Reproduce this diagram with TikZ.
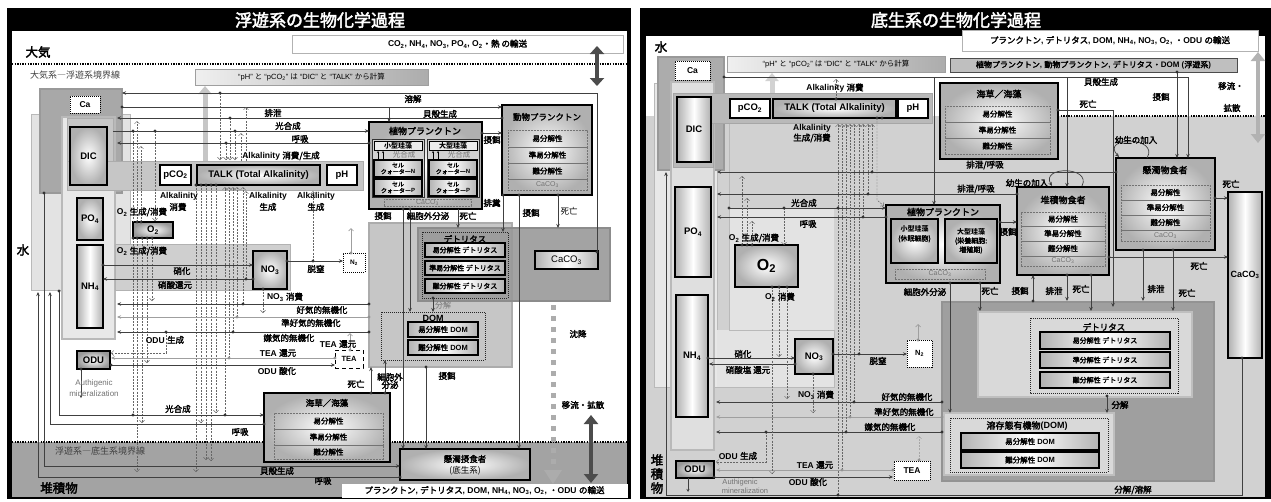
\documentclass[tikz,border=0pt]{standalone}
\usepackage{fontspec}
\setmainfont{Liberation Sans}
\newfontfamily\jpf{Noto Sans CJK JP}[BoldFont={Noto Sans CJK JP},BoldFeatures={FakeBold=2.5},AutoFakeSlant=0.2]
\usetikzlibrary{arrows.meta}
\newcommand\JP[1]{{\jpf #1}}
\newcommand\sbs[1]{\textsubscript{#1}}
\newcounter{lc}
\newcommand\lbl[3][lab]{\stepcounter{lc}\node[#1] (t\arabic{lc}) at (#2) {#3};}
\newcommand\mbx[7]{\node[#6, minimum width=(#4-#2)*1pt, minimum height=(#5-#3)*1pt] (#1) at ({(#2+#4)/2},{(#3+#5)/2}) {#7};}
\newcommand\pdot[1]{\fill[black!80] (#1) circle (1.7pt);}
\newcommand\gdot[1]{\fill[gray!85] (#1) circle (1.7pt);}
\tikzset{
 ttl/.style={font=\fontsize{17}{18}\selectfont\bfseries, text=white, inner sep=0pt},
 big/.style={font=\fontsize{12.5}{13}\selectfont\bfseries, inner sep=0pt},
 bnd/.style={font=\fontsize{9}{10}\selectfont, text=black!75, inner sep=0pt},
 lab/.style={font=\fontsize{8.5}{9}\selectfont\bfseries, inner sep=0pt, align=center},
 labn/.style={font=\fontsize{8.5}{9}\selectfont, inner sep=0pt, align=center},
 gl/.style={font=\fontsize{7.5}{8.5}\selectfont, text=black!55, inner sep=0pt, align=center},
 topw/.style={draw=gray!60, fill=white, line width=0.8pt, inner sep=0pt, font=\fontsize{8.5}{9}\selectfont\bfseries},
 calcbox/.style={draw=gray!75, line width=0.8pt, left color=gray!12, right color=gray!65, inner sep=0pt, font=\fontsize{7.5}{8}\selectfont},
 rbox/.style={draw=black, line width=1.4pt, inner color=white, outer color=gray!62, inner sep=0pt, align=center, font=\fontsize{9.5}{10}\selectfont\bfseries},
 cbox/.style={draw=black, line width=1.4pt, left color=gray!62, right color=gray!62, middle color=white, inner sep=0pt, align=center, font=\fontsize{9.5}{10}\selectfont\bfseries},
 hbox/.style={draw=black, line width=1.3pt, left color=gray!60, right color=gray!60, middle color=white, inner sep=0pt, align=center, font=\fontsize{7}{7.5}\selectfont\bfseries},
 wbox/.style={draw=black, line width=1.4pt, fill=white, inner sep=0pt, font=\fontsize{9.5}{10}\selectfont\bfseries},
 dotb/.style={draw=black, line width=1pt, dash pattern=on 1pt off 1pt, fill=white, inner sep=0pt, font=\fontsize{8.5}{9}\selectfont\bfseries},
 dashb/.style={draw=black, line width=1pt, dash pattern=on 4pt off 3pt, fill=white, inner sep=0pt, font=\fontsize{7.5}{8}\selectfont\bfseries},
 drow/.style={draw=black!55, line width=0.5pt, dash pattern=on 2pt off 1pt, inner sep=0pt, font=\fontsize{7.5}{8}\selectfont\bfseries},
 grayrow/.style={drow, font=\fontsize{7}{8}\selectfont, text=black!55},
 dotarea/.style={draw=black!85, line width=1pt, dash pattern=on 1pt off 1pt},
 ln/.style={draw=black!75, line width=0.7pt},
 gln/.style={draw=gray!75, line width=0.7pt},
 ar/.style={-{Stealth[length=4pt,width=3.5pt]}},
 dl/.style={draw=black!60, line width=0.45pt, dash pattern=on 2pt off 1.2pt},
 oa/.style={-{Straight Barb[length=2.5pt,width=5pt]}},
}
\begin{document}
\begin{tikzpicture}[x=1pt,y=-1pt]
\useasboundingbox (0,0) rectangle (1271,501);
\fill[white] (0,0) rectangle (1271,501);

%%%%%%%%%%%%%%%%%%%% LEFT PANEL
\fill[black] (7,8) rectangle (631,499);
\fill[white] (12,31) rectangle (627,442);
\fill[gray!72] (12,442) rectangle (627,497);
\draw[black,line width=1.3pt,dash pattern=on 1.3pt off 1.3pt] (12,64) -- (627,64);
\draw[black,line width=1.3pt,dash pattern=on 1.3pt off 1.3pt] (12,442) -- (627,442);
\node[ttl] (ttlL) at (320,20) {\JP{浮遊系の生物化学過程}};
\lbl[big]{38,52}{\JP{大気}}
\lbl[big]{23,250}{\JP{水}}
\lbl[big]{59,488}{\JP{堆積物}}
\lbl[bnd]{75,75}{\JP{大気系―浮遊系境界線}}
\lbl[bnd]{100,451}{\JP{浮遊系―底生系境界線}}
\mbx{trL}{292}{35}{623}{53}{topw}{CO\sbs{2}, NH\sbs{4}, NO\sbs{3}, PO\sbs{4}, O\sbs{2}\JP{・熱 の輸送}}
\mbx{calcL}{195}{69}{428}{85}{calcbox}{“pH” \JP{と} “pCO\sbs{2}” \JP{は} “DIC” \JP{と} “TALK” \JP{から計算}}

% regions
\filldraw[fill=gray!22,draw=gray!55,line width=0.8pt] (31,114) rectangle (130,290);
\filldraw[fill=gray!68,draw=gray!80,line width=1.5pt] (40,89) rectangle (122,193);
\filldraw[fill=gray!18,draw=gray!55,line width=1.8pt] (62,117) rectangle (115,339);
\filldraw[fill=gray!45,draw=gray!65,line width=1pt] (67,118) rectangle (113,190);
\filldraw[fill=gray!45,draw=gray!65,line width=1pt] (67,161) rectangle (363,190);
\fill[gray!45] (68,162) rectangle (112,189);
\filldraw[fill=gray!38,draw=gray!60,line width=1pt] (115,244) rectangle (290,290);
\filldraw[fill=gray!45,draw=gray!65,line width=1.5pt] (369,223) rectangle (512,367);
\filldraw[fill=gray!80,draw=gray!90,line width=2pt,fill opacity=0.9] (418,228) rectangle (610,301);
\draw[dotarea] (422,232) rectangle (508,298);
\draw[dotarea] (381,312) rectangle (485,360);

% thick arrows
\draw[gray!45,line width=5pt,-{Triangle[length=8pt,width=13pt]}] (205,161) -- (205,86);
\draw[black!70,line width=4pt,{Triangle[length=8pt,width=14pt]}-{Triangle[length=8pt,width=14pt]}] (597,46) -- (597,86);
\draw[black!70,line width=4pt,{Triangle[length=9pt,width=14pt]}-{Triangle[length=9pt,width=14pt]}] (591,415) -- (591,483);
\draw[gray!65,line width=5pt,dash pattern=on 5pt off 6pt] (553,305) -- (553,470);
\fill[gray!65] (544,470) -- (562,470) -- (553,484) -- cycle;
\mbx{botL}{342}{484}{627}{497}{topw,draw=white}{\JP{プランクトン}, \JP{デトリタス}, DOM, NH\sbs{4}, NO\sbs{3}, O\sbs{2}, \JP{・}ODU \JP{の輸送}}

% boxes
\mbx{CaL}{70}{96}{100}{113}{dotb}{Ca}
\mbx{DICL}{70}{127}{107}{185}{rbox}{DIC}
\mbx{pco2L}{160}{165}{191}{185}{wbox}{pCO\sbs{2}}
\mbx{talkL}{197}{165}{320}{185}{rbox}{TALK (Total Alkalinity)}
\mbx{phL}{327}{165}{357}{185}{wbox}{pH}
\mbx{PO4L}{77}{198}{103}{240}{rbox}{PO\sbs{4}}
\mbx{O2L}{133}{222}{173}{238}{rbox,outer color=gray!80}{O\sbs{2}}
\mbx{NH4L}{77}{245}{103}{328}{cbox}{NH\sbs{4}}
\mbx{NO3L}{253}{251}{287}{289}{rbox}{NO\sbs{3}}
\mbx{N2L}{343}{253}{365}{272}{dotb,font=\fontsize{6.5}{7}\selectfont\bfseries}{N\sbs{2}}
\mbx{ODUL}{77}{351}{110}{369}{rbox,outer color=gray!80}{ODU}
\mbx{TEAL}{335}{350}{363}{368}{dashb}{TEA}

% phytoplankton (left)
\mbx{phyL}{369}{122}{482}{209}{rbox}{}
\lbl[lab,font=\fontsize{9}{9}\selectfont\bfseries]{425,131}{\JP{植物プランクトン}}
\mbx{smL}{372}{139}{424}{197}{draw=black!80,line width=1pt,fill=gray!35}{}
\mbx{lgL}{427}{139}{479}{197}{draw=black!80,line width=1pt,fill=gray!35}{}
\mbx{smhL}{374}{141}{422}{150}{draw=black,line width=0.8pt,fill=gray!15,inner sep=0pt,font=\fontsize{7}{7}\selectfont\bfseries\itshape}{\JP{小型珪藻}}
\mbx{lghL}{429}{141}{477}{150}{draw=black,line width=0.8pt,fill=gray!15,inner sep=0pt,font=\fontsize{7}{7}\selectfont\bfseries\itshape}{\JP{大型珪藻}}
\lbl[gl,font=\fontsize{7.5}{8}\selectfont]{404,155}{\JP{光合成}}
\lbl[gl,font=\fontsize{7.5}{8}\selectfont]{459,155}{\JP{光合成}}
\mbx{cnL1}{374}{160}{422}{177}{hbox,font=\fontsize{6}{6.5}\selectfont\bfseries}{\JP{セル}\\\JP{クォーター}N}
\mbx{cpL1}{374}{179}{422}{196}{hbox,font=\fontsize{6}{6.5}\selectfont\bfseries}{\JP{セル}\\\JP{クォーター}P}
\mbx{cnL2}{429}{160}{477}{177}{hbox,font=\fontsize{6}{6.5}\selectfont\bfseries}{\JP{セル}\\\JP{クォーター}N}
\mbx{cpL2}{429}{179}{477}{196}{hbox,font=\fontsize{6}{6.5}\selectfont\bfseries}{\JP{セル}\\\JP{クォーター}P}
\mbx{ccL}{384}{199}{471}{206}{grayrow}{CaCO\sbs{3}}
\foreach \xx in {378,383,433,438} \draw[black,line width=0.5pt,-{Stealth[length=2pt,width=2pt]}] (\xx,160) -- (\xx,151);

% zooplankton
\mbx{zooL}{502}{105}{592}{195}{rbox}{}
\lbl[lab]{547,117}{\JP{動物プランクトン}}
\mbx{zr1}{508}{130}{587}{147}{drow}{\JP{易分解性}}
\mbx{zr2}{508}{147}{587}{163}{drow}{\JP{準易分解性}}
\mbx{zr3}{508}{163}{587}{179}{drow}{\JP{難分解性}}
\mbx{zr4}{508}{179}{587}{190}{grayrow}{CaCO\sbs{3}}

% detritus / DOM / CaCO3
\lbl[lab]{465,239}{\JP{デトリタス}}
\mbx{dL1}{425}{243}{505}{257}{hbox}{\JP{易分解性 デトリタス}}
\mbx{dL2}{425}{261}{505}{275}{hbox}{\JP{準易分解性 デトリタス}}
\mbx{dL3}{425}{279}{505}{293}{hbox}{\JP{難分解性 デトリタス}}
\mbx{caco3L}{535}{251}{598}{269}{cbox,font=\fontsize{9.5}{10}\selectfont}{CaCO\sbs{3}}
\lbl[lab,font=\fontsize{9}{9}\selectfont\bfseries]{433,318}{DOM}
\mbx{domL1}{408}{322}{478}{337}{hbox,font=\fontsize{7.5}{8}\selectfont\bfseries}{\JP{易分解性} DOM}
\mbx{domL2}{408}{340}{478}{355}{hbox,font=\fontsize{7.5}{8}\selectfont\bfseries}{\JP{難分解性} DOM}

% seagrass, suspension feeders
\mbx{seaL}{264}{393}{390}{462}{rbox}{}
\lbl[lab]{327,403}{\JP{海草／海藻}}
\mbx{sl1}{274}{413}{383}{429}{drow}{\JP{易分解性}}
\mbx{sl2}{274}{429}{383}{445}{drow}{\JP{準易分解性}}
\mbx{sl3}{274}{445}{383}{459}{drow}{\JP{難分解性}}
\mbx{susL}{400}{449}{530}{480}{rbox}{}
\lbl[lab]{465,459}{\JP{懸濁摂食者}}
\lbl[labn]{465,471}{\JP{(底生系)}}

% ---- connectors left
\draw[ln,ar] (597,252) -- (597,93) -- (122,93);
\draw[dl,oa] (220,93) -- (220,160);
\draw[ln,ar] (122,107) -- (502,107);
\draw[ln,ar] (389,107) -- (389,122);
\draw[ln,ar] (502,118) -- (117,118);
\draw[dl,oa] (230,118) -- (230,160);
\draw[ln,ar] (113,131) -- (369,131);
\draw[dl,oa] (235,131) -- (235,160);
\draw[ln,ar] (369,143) -- (117,143);
\draw[dl,oa] (226,143) -- (226,160);
\draw[dl,oa] (246,161) -- (246,107);
\draw[dl,oa] (241,161) -- (241,133);
\draw[ln,ar] (482,133) -- (502,133);
% O2 dashed
\draw[dl,oa] (155,131) -- (155,221);
\draw[dl] (133,131) -- (133,222);
\draw[dl,oa] (137,222) -- (137,121);
\draw[dl,oa] (141,222) -- (141,146);
\draw[dl] (133,238) -- (133,415);
\draw[dl,oa] (137,238) -- (137,472);
\draw[dl,oa] (142,238) -- (142,423);
\draw[dl,oa] (147,238) -- (147,363);
\draw[dl,oa] (152,238) -- (152,301);
% TALK dashed
\draw[dl,oa] (196,185) -- (196,472);
\draw[dl,oa] (201,185) -- (201,423);
\draw[dl,oa] (206,185) -- (206,460);
\draw[dl,oa] (211,185) -- (211,461);
\draw[dl,oa] (216,185) -- (216,413);
\draw[dl,oa] (225,415) -- (225,187);
\draw[dl,oa] (229,358) -- (229,187);
\draw[dl,oa] (233,332) -- (233,187);
\draw[dl,oa] (237,317) -- (237,187);
\draw[dl,oa] (243,304) -- (243,187);
\draw[dl,oa] (246,279) -- (246,191);
\draw[dl,oa] (313,261) -- (313,191);
% N cycle
\draw[ln,ar] (103,265) -- (253,265);
\draw[ln,ar] (253,279) -- (103,279);
\draw[ln,ar] (287,261) -- (343,261);
\draw[gln,oa] (351,253) -- (351,228);
\draw[dl,oa] (263,289) -- (263,313);
% mineralization
\draw[ln,ar] (369,304) -- (117,304);
\draw[gln,ar] (369,317) -- (117,317);
\draw[ln,ar] (369,332) -- (117,332);
\draw[dl,oa] (166,332) -- (166,353) -- (111,353);
\draw[gln,ar] (335,358) -- (111,358);
\draw[ln,ar] (111,365) -- (335,365);
\draw[gln,oa] (350,350) -- (350,333);
\draw[ln,-{Stealth[length=3pt,width=3pt]}] (81,369) -- (81,398);
% seagrass / suspension feeders
\draw[ln,ar] (59,291) -- (59,415) -- (264,415);
\draw[ln,ar] (264,424) -- (50,424) -- (50,292);
\draw[ln,ar] (44,193) -- (44,466) -- (400,466);
\draw[ln,ar] (400,477) -- (38,477) -- (38,292);
% phyto / zoo bottoms
\draw[ln,ar] (403,209) -- (403,449);
\draw[ln,ar] (410,209) -- (410,312);
\draw[ln,ar] (458,209) -- (458,228);
\draw[ln,ar] (503,195) -- (503,232);
\draw[ln,ar] (519,195) -- (519,449);
\draw[ln,ar] (558,195) -- (558,228);
\draw[ln,ar] (433,298) -- (433,312);
\draw[ln,ar] (371,393) -- (371,367);
\draw[ln,ar] (385,393) -- (385,360);
\draw[ln,ar] (426,367) -- (426,449);
% dots left
\foreach \p in {{597,252},{220,93},{122,107},{502,118},{230,118},{133,131},{155,131},{235,131},{369,143},{226,143},{482,133},
 {137,222},{141,222},{133,238},{137,238},{142,238},{147,238},{152,238},{196,185},{201,185},{206,185},{211,185},{216,185},
 {103,265},{253,279},{246,279},{287,261},{313,261},{263,289},{369,304},{243,304},{369,332},{233,332},{166,332},{111,365},{81,369},
 {59,291},{133,415},{225,415},{264,424},{44,193},{400,477},{403,209},{410,209},{503,195},{519,195},{558,195},{433,298},{371,393},{385,393},{426,367}}
 {\expandafter\pdot\expandafter{\p}}
\foreach \p in {{351,253},{369,317},{237,317},{335,358},{229,358},{350,350}} {\expandafter\gdot\expandafter{\p}}

% labels left
\lbl{413,99}{\JP{溶解}}
\lbl{440,114}{\JP{貝殻生成}}
\lbl{273,113}{\JP{排泄}}
\lbl{288,126}{\JP{光合成}}
\lbl{300,139}{\JP{呼吸}}
\lbl{492,140}{\JP{摂餌}}
\lbl{281,156}{Alkalinity \JP{消費/生成}}
\lbl{179,196}{Alkalinity}
\lbl{178,207}{\JP{消費}}
\lbl{268,196}{Alkalinity}
\lbl{268,207}{\JP{生成}}
\lbl{316,196}{Alkalinity}
\lbl{316,207}{\JP{生成}}
\lbl{142,212}{O\sbs{2} \JP{生成/消費}}
\lbl{142,251}{O\sbs{2} \JP{生成/消費}}
\lbl{182,271}{\JP{硝化}}
\lbl{175,285}{\JP{硝酸還元}}
\lbl{316,269}{\JP{脱窒}}
\lbl{285,297}{NO\sbs{3} \JP{消費}}
\lbl{322,310}{\JP{好気的無機化}}
\lbl{311,323}{\JP{準好気的無機化}}
\lbl{289,338}{\JP{嫌気的無機化}}
\lbl{165,340}{ODU \JP{生成}}
\lbl{278,353}{TEA \JP{還元}}
\lbl{338,344}{TEA \JP{還元}}
\lbl{277,371}{ODU \JP{酸化}}
\lbl[gl,font=\fontsize{8}{9}\selectfont]{94,383}{Authigenic}
\lbl[gl,font=\fontsize{8}{9}\selectfont]{94,394}{mineralization}
\lbl{178,409}{\JP{光合成}}
\lbl{240,432}{\JP{呼吸}}
\lbl{277,471}{\JP{貝殻生成}}
\lbl{323,481}{\JP{呼吸}}
\lbl{356,384}{\JP{死亡}}
\lbl{390,381}{\JP{細胞外}\\[-1pt]\JP{分泌}}
\lbl{447,376}{\JP{摂餌}}
\lbl{383,216}{\JP{摂餌}}
\lbl{428,216}{\JP{細胞外分泌}}
\lbl{468,216}{\JP{死亡}}
\lbl{492,203}{\JP{排糞}}
\lbl{531,213}{\JP{摂餌}}
\lbl[labn]{569,211}{\JP{死亡}}
\lbl[gl,font=\fontsize{8}{9}\selectfont]{443,305}{\JP{分解}}
\lbl{578,334}{\JP{沈降}}
\lbl{583,405}{\JP{移流・拡散}}

%%%%%%%%%%%%%%%%%%%% RIGHT PANEL
\fill[black] (640,8) rectangle (1271,499);
\fill[gray!36] (646,36) rectangle (1265,497);
\fill[white] (646,36) rectangle (1265,116);
\draw[black,line width=1.3pt,dash pattern=on 1.3pt off 1.3pt] (1058,116) -- (1265,116);
\node[ttl] (ttlR) at (956,20) {\JP{底生系の生物化学過程}};
\lbl[big]{661,47}{\JP{水}}
\lbl[big]{657,460}{\JP{堆}}
\lbl[big]{657,474}{\JP{積}}
\lbl[big]{657,488}{\JP{物}}

\filldraw[fill=gray!18,draw=gray!55,line width=0.8pt] (654,83) rectangle (717,387);
\fill[gray!22] (729,208) rectangle (834,330);
\fill[gray!22] (717,330) rectangle (834,387);
\draw[gray!55,line width=0.8pt] (729,123) -- (729,330) -- (834,330) -- (834,387) -- (717,387);
\filldraw[fill=gray!65,draw=gray!80,line width=2pt] (658,57) rectangle (724,170);
\filldraw[fill=gray!25,draw=gray!55,line width=2pt] (671,82) rectangle (714,450);
\filldraw[fill=gray!55,draw=gray!70,line width=1pt] (673,93) rectangle (713,167);
\filldraw[fill=gray!55,draw=gray!70,line width=1pt] (673,93) rectangle (932,123);
\fill[gray!55] (674,94) rectangle (712,166);
\filldraw[fill=gray!75,draw=gray!85,line width=2pt] (942,302) rectangle (1214,481);
\filldraw[fill=gray!30,draw=gray!50,line width=1.5pt] (978,312) rectangle (1192,397);
\filldraw[fill=gray!30,draw=gray!50,line width=1.5pt] (944,413) rectangle (1114,475);
\draw[dotarea] (1030,318) rectangle (1178,393);
\draw[dotarea] (950,418) rectangle (1108,472);

\draw[gray!35,line width=5pt,-{Triangle[length=8pt,width=13pt]}] (772,93) -- (772,73);
\draw[gray!60,line width=4pt,{Triangle[length=9pt,width=14pt]}-{Triangle[length=9pt,width=14pt]}] (1258,52) -- (1258,143);

\mbx{trR}{962}{30}{1258}{51}{topw}{\JP{プランクトン}, \JP{デトリタス}, DOM, NH\sbs{4}, NO\sbs{3}, O\sbs{2}, \JP{・}ODU \JP{の輸送}}
\mbx{plR}{950}{58}{1237}{72}{draw=black!70,line width=1pt,fill=gray!50,inner sep=0pt,font=\fontsize{8}{8.5}\selectfont\bfseries}{\JP{植物プランクトン}, \JP{動物プランクトン}, \JP{デトリタス・}DOM (\JP{浮遊系})}
\mbx{calcR}{727}{56}{945}{72}{calcbox}{“pH” \JP{と} “pCO\sbs{2}” \JP{は} “DIC” \JP{と} “TALK” \JP{から計算}}

\mbx{CaR}{675}{61}{710}{80}{dotb}{Ca}
\mbx{DICR}{677}{97}{711}{162}{cbox}{DIC}
\mbx{pco2R}{730}{99}{770}{118}{wbox}{pCO\sbs{2}}
\mbx{talkR}{773}{99}{896}{118}{rbox}{TALK (Total Alkalinity)}
\mbx{phR}{898}{99}{928}{118}{wbox}{pH}
\mbx{PO4R}{675}{187}{711}{277}{cbox}{PO\sbs{4}}
\mbx{NH4R}{676}{295}{708}{417}{cbox}{NH\sbs{4}}
\mbx{O2R}{735}{245}{798}{287}{rbox,line width=2pt,font=\fontsize{16}{17}\selectfont\bfseries}{O\sbs{2}}
\mbx{NO3R}{795}{339}{833}{374}{rbox}{NO\sbs{3}}
\mbx{N2R}{907}{340}{932}{367}{dotb,font=\fontsize{7.5}{8}\selectfont\bfseries}{N\sbs{2}}
\mbx{TEAR}{894}{461}{930}{480}{dotb}{TEA}
\mbx{ODUR}{676}{461}{714}{478}{rbox,outer color=gray!80}{ODU}
\mbx{CaCO3R}{1228}{192}{1262}{358}{cbox,font=\fontsize{9}{10}\selectfont\bfseries}{CaCO\sbs{3}}

\mbx{seaR}{940}{83}{1058}{159}{rbox}{}
\lbl[lab,font=\fontsize{9}{9}\selectfont\bfseries]{999,94}{\JP{海草／海藻}}
\mbx{sr1}{945}{106}{1050}{122}{drow}{\JP{易分解性}}
\mbx{sr2}{945}{122}{1050}{138}{drow}{\JP{準易分解性}}
\mbx{sr3}{945}{138}{1050}{154}{drow}{\JP{難分解性}}

\mbx{susR}{1116}{158}{1215}{250}{rbox}{}
\lbl[lab,font=\fontsize{9}{9}\selectfont\bfseries]{1165,170}{\JP{懸濁物食者}}
\mbx{ur1}{1121}{185}{1210}{200}{drow}{\JP{易分解性}}
\mbx{ur2}{1121}{200}{1210}{215}{drow}{\JP{準易分解性}}
\mbx{ur3}{1121}{215}{1210}{230}{drow}{\JP{難分解性}}
\mbx{ur4}{1121}{230}{1210}{241}{grayrow}{CaCO\sbs{3}}

\mbx{depR}{1017}{187}{1109}{275}{rbox}{}
\lbl[lab,font=\fontsize{9}{9}\selectfont\bfseries]{1063,200}{\JP{堆積物食者}}
\mbx{er1}{1021}{212}{1105}{226}{drow}{\JP{易分解性}}
\mbx{er2}{1021}{226}{1105}{241}{drow}{\JP{準易分解性}}
\mbx{er3}{1021}{241}{1105}{256}{drow}{\JP{難分解性}}
\mbx{er4}{1021}{256}{1105}{266}{grayrow}{CaCO\sbs{3}}

\mbx{phyR}{886}{205}{1000}{283}{rbox}{}
\lbl[lab,font=\fontsize{9}{9}\selectfont\bfseries]{943,212}{\JP{植物プランクトン}}
\mbx{smR}{891}{219}{938}{263}{rbox,line width=1.2pt,font=\fontsize{7}{9}\selectfont\bfseries}{\textit{\JP{小型珪藻}}\\\JP{(休眠細胞)}\\[6pt]}
\mbx{lgR}{945}{219}{997}{263}{rbox,line width=1.2pt,font=\fontsize{7}{9}\selectfont\bfseries}{\textit{\JP{大型珪藻}}\\\JP{(栄養細胞:}\\\JP{増殖期)}}
\mbx{ccR}{895}{269}{985}{279}{grayrow}{CaCO\sbs{3}}

\lbl[lab]{1104,327}{\JP{デトリタス}}
\mbx{dR1}{1040}{332}{1170}{349}{hbox}{\JP{易分解性 デトリタス}}
\mbx{dR2}{1040}{352}{1170}{368}{hbox}{\JP{準分解性 デトリタス}}
\mbx{dR3}{1040}{372}{1170}{388}{hbox}{\JP{難分解性 デトリタス}}
\lbl[lab,font=\fontsize{9}{9}\selectfont\bfseries]{1027,426}{\JP{溶存態有機物}(DOM)}
\mbx{domR1}{961}{433}{1099}{450}{hbox,font=\fontsize{7.5}{8}\selectfont\bfseries}{\JP{易分解性} DOM}
\mbx{domR2}{961}{452}{1099}{468}{hbox,font=\fontsize{7.5}{8}\selectfont\bfseries}{\JP{難分解性} DOM}

% ---- connectors right
\draw[ln,ar] (724,77) -- (1188,77) -- (1188,158);
\draw[ln,ar] (934,77) -- (934,205);
\draw[ln,ar] (1067,77) -- (1067,187);
\draw[ln,ar] (1177,72) -- (1177,158);
\draw[ln,ar] (1058,110) -- (1113,110) -- (1113,307);
\draw[ln,ar] (1147,158) .. controls (1160,136) and (1100,136) .. (1119,157);
\draw[ln,ar] (1082,186) .. controls (1092,166) and (1040,166) .. (1052,186);
\draw[ln,ar] (1116,172) -- (717,172);
\draw[ln,ar] (1017,194) -- (717,194);
\draw[ln,ar] (729,208) -- (886,208);
\draw[ln,ar] (886,217) -- (717,217);
\draw[ln,ar] (1000,222) -- (1017,222);
\draw[ln,ar] (950,283) -- (950,413);
\draw[ln,ar] (980,283) -- (980,311);
\draw[ln,ar] (1033,301) -- (1033,275);
\draw[ln,ar] (1067,275) -- (1067,301);
\draw[ln,ar] (1091,275) -- (1091,311);
\draw[ln,ar] (1143,250) -- (1143,301);
\draw[ln,ar] (1173,250) -- (1173,311);
\draw[ln,ar] (1109,257) -- (1228,257);
\draw[ln,ar] (1215,198) -- (1228,198);
\draw[ln,ar] (1242,358) -- (1242,495) -- (666,495) -- (666,172);
\draw[ln,ar] (1107,396) -- (1107,413);
% N cycle
\draw[ln,ar] (708,358) -- (795,358);
\draw[ln,ar] (795,364) -- (709,364);
\draw[ln,ar] (833,354) -- (907,354);
\draw[gln,oa] (918,340) -- (918,324);
\draw[dl,oa] (813,374) -- (813,413);
% mineralization
\draw[ln,ar] (942,402) -- (716,402);
\draw[gln,ar] (942,417) -- (716,417);
\draw[ln,ar] (942,432) -- (716,432);
\draw[dl,oa] (766,432) -- (766,462) -- (716,462);
\draw[gln,ar] (893,470) -- (716,470);
\draw[ln,ar] (714,477) -- (893,477);
\draw[ln,-{Stealth[length=3pt,width=3pt]}] (688,478) -- (688,492);
\draw[dl,oa,draw=gray!70] (919,460) -- (919,436);
% O2 dashes
\draw[dl,oa] (784,208) -- (784,245);
\draw[dl,oa] (742,245) -- (742,176);
\draw[dl,oa] (747,245) -- (747,198);
\draw[dl,oa] (752,245) -- (752,221);
\draw[dl,oa] (772,287) -- (772,474);
\draw[dl,oa] (779,287) -- (779,357);
\draw[dl,oa] (787,287) -- (787,399);
% TALK dashes
\foreach \xx/\yy in {838/495, 842/470, 846/432, 850/417, 854/402, 859/354, 863/217, 868/194, 872/172}
  \draw[dl,oa] (\xx,\yy) -- (\xx,124);
\draw[dl,oa] (877,118) -- (877,200) -- (884,206);
\draw[dl,oa] (836,99) -- (836,79);
% dots right
\foreach \p in {{724,77},{1177,72},{1058,110},{1116,172},{872,172},{1017,194},{868,194},{729,208},{784,208},{838,208},{886,217},{863,217},
 {1000,222},{950,283},{980,283},{1033,301},{1067,275},{1091,275},{1143,250},{1173,250},{1109,257},{1215,198},{1242,358},{838,495},{1107,396},
 {708,358},{795,364},{833,354},{859,354},{813,374},{942,402},{854,402},{942,432},{846,432},{766,432},{714,477},
 {742,245},{747,245},{752,245},{772,287},{779,287},{787,287},{877,118},{882,118},{836,99}}
 {\expandafter\pdot\expandafter{\p}}
\foreach \p in {{918,340},{942,417},{850,417},{893,470},{842,470},{919,460}} {\expandafter\gdot\expandafter{\p}}

% labels right
\lbl{1101,82}{\JP{貝殻生成}}
\lbl{1161,97}{\JP{摂餌}}
\lbl{1231,86}{\JP{移流・}}
\lbl{1232,108}{\JP{拡散}}
\lbl{1088,104}{\JP{死亡}}
\lbl{1136,140}{\JP{幼生の加入}}
\lbl{1027,183}{\JP{幼生の加入}}
\lbl{985,165}{\JP{排泄/呼吸}}
\lbl{976,189}{\JP{排泄/呼吸}}
\lbl{1231,184}{\JP{死亡}}
\lbl{1008,232}{\JP{摂餌}}
\lbl{804,203}{\JP{光合成}}
\lbl{808,224}{\JP{呼吸}}
\lbl{835,88}{Alkalinity \JP{消費}}
\lbl{812,128}{Alkalinity}
\lbl{812,138}{\JP{生成/消費}}
\lbl{754,238}{O\sbs{2} \JP{生成/消費}}
\lbl{780,297}{O\sbs{2} \JP{消費}}
\lbl{743,354}{\JP{硝化}}
\lbl{748,370}{\JP{硝酸塩 還元}}
\lbl{878,361}{\JP{脱窒}}
\lbl{816,395}{NO\sbs{3} \JP{消費}}
\lbl{907,397}{\JP{好気的無機化}}
\lbl{904,412}{\JP{準好気的無機化}}
\lbl{890,427}{\JP{嫌気的無機化}}
\lbl{738,456}{ODU \JP{生成}}
\lbl{815,465}{TEA \JP{還元}}
\lbl{808,482}{ODU \JP{酸化}}
\lbl[gl,font=\fontsize{7.5}{8}\selectfont]{740,483}{Authigenic}
\lbl[gl,font=\fontsize{7.5}{8}\selectfont]{745,491}{mineralization}
\lbl{925,292}{\JP{細胞外分泌}}
\lbl{990,291}{\JP{死亡}}
\lbl{1020,291}{\JP{摂餌}}
\lbl{1054,291}{\JP{排泄}}
\lbl{1081,289}{\JP{死亡}}
\lbl{1156,289}{\JP{排泄}}
\lbl{1187,293}{\JP{死亡}}
\lbl{1199,266}{\JP{死亡}}
\lbl{1120,405}{\JP{分解}}
\lbl{1133,490}{\JP{分解/溶解}}
\end{tikzpicture}
\end{document}
